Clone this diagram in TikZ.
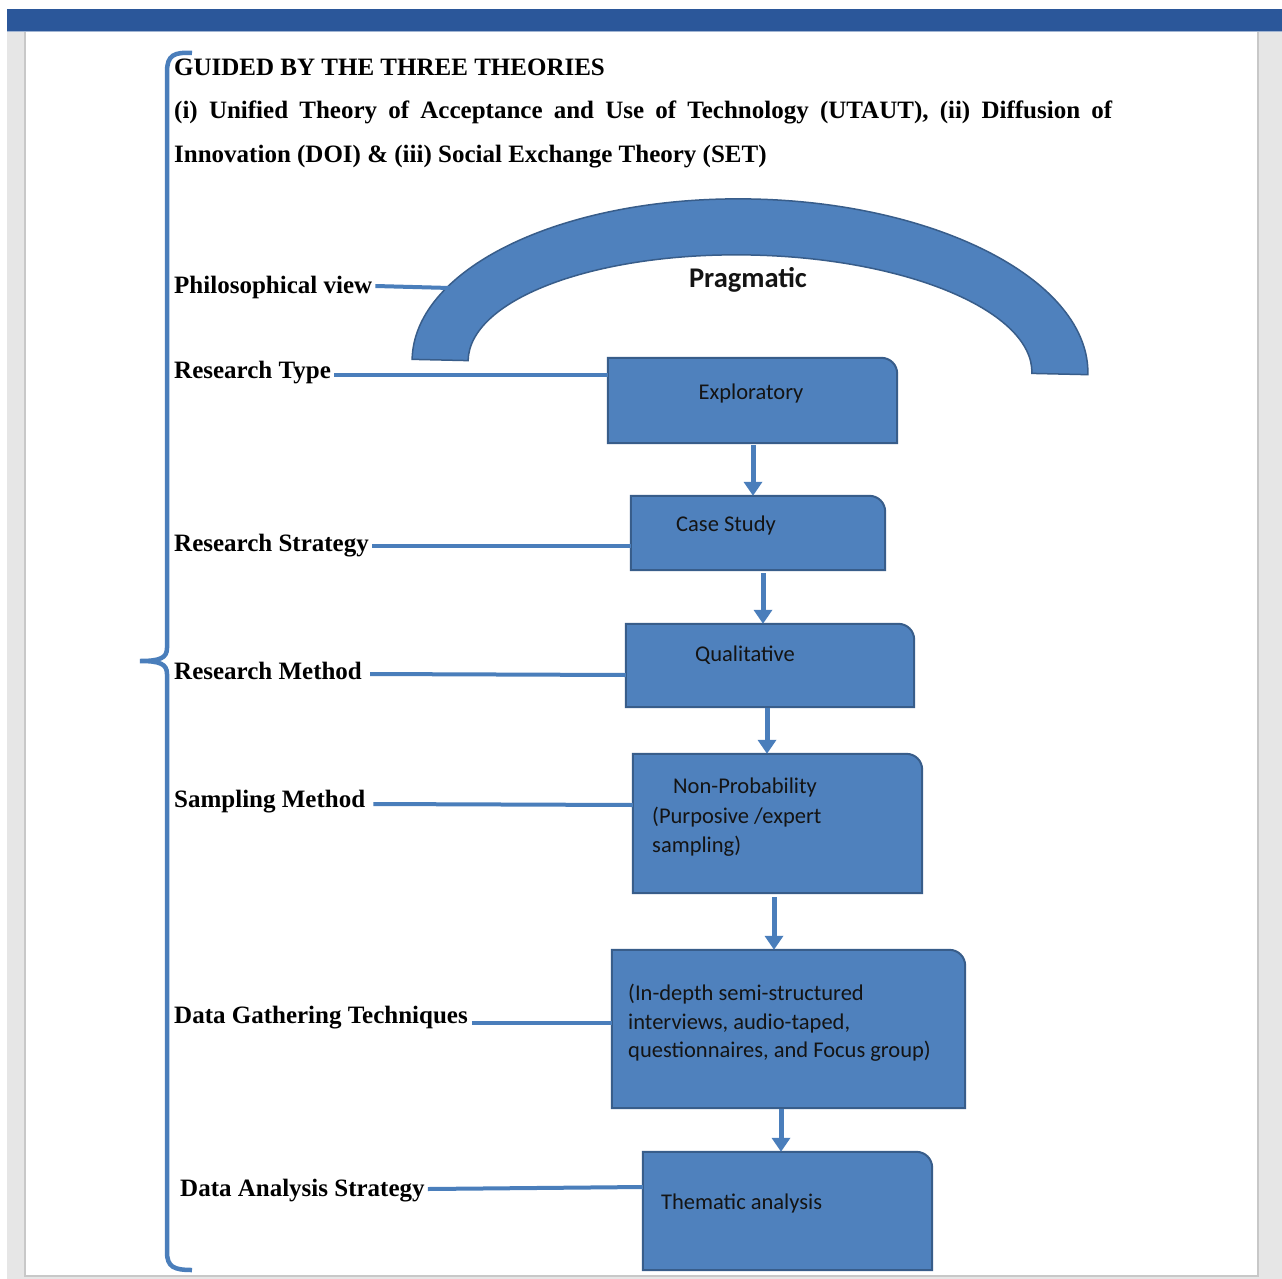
\documentclass[tikz,border=0pt]{standalone}
\usepackage{fontspec}
\setmainfont{Liberation Serif}
\newfontfamily\calib{Carlito}
\usetikzlibrary{arrows.meta}
\definecolor{barblue}{HTML}{2B579A}
\definecolor{boxfill}{HTML}{4F81BD}
\definecolor{boxedge}{HTML}{385D8A}
\definecolor{linkblue}{HTML}{4A7EBB}
\definecolor{pagegrey}{HTML}{E6E6E6}
\definecolor{edgegrey}{HTML}{C8C8C8}
\definecolor{ink}{HTML}{141414}
\tikzset{
 lab/.style={anchor=base west, inner sep=0pt, font=\fontsize{25}{30}\selectfont\bfseries, text=black},
 btxt/.style={anchor=base west, inner sep=0pt, font=\calib\fontsize{22.5}{27}\selectfont, text=ink},
 btxtc/.style={btxt, anchor=base},
 boxn/.style={inner sep=0pt, draw=none},
 boxshape/.style={fill=boxfill, draw=boxedge, line width=2pt},
 conn/.style={draw=linkblue, line width=4pt},
 arr/.style={draw=linkblue, line width=5pt, -{Triangle[width=18pt,length=14pt]}},
}
\newcommand\drawbox[1]{\filldraw[boxshape] (#1.south west) -- (#1.north west) -- ([xshift=-16pt]#1.north east) .. controls ([xshift=-7pt]#1.north east) and ([yshift=-7pt]#1.north east) .. ([yshift=-16pt]#1.north east) -- (#1.south east) -- cycle;}
\begin{document}
\begin{tikzpicture}[x=1pt,y=-1pt]
\useasboundingbox (0,0) rectangle (1282,1279);
\fill[white] (0,0) rectangle (1282,1279);
% window chrome
\fill[pagegrey] (7,32) rectangle (25,1279);
\fill[pagegrey] (1258,32) rectangle (1282,1279);
\fill[pagegrey] (25,1276) rectangle (1258,1279);
\draw[edgegrey, line width=1.5pt] (25,32) -- (25,1276) -- (1258,1276) -- (1258,32);
\fill[barblue] (7,9) rectangle (1282,32);
\draw[barblue!45, line width=1pt] (7,32) -- (1282,32);

% header
\node[lab] (h1) at (174,76) {GUIDED BY THE THREE THEORIES};
\node[lab] (h2) at (174,119) {\makebox[938pt][s]{(i) Unified Theory of Acceptance and Use of Technology (UTAUT), (ii) Diffusion of}};
\node[lab] (h3) at (174,162) {Innovation (DOI) \& (iii) Social Exchange Theory (SET)};

% bracket
\draw[conn, line width=4.5pt] (192,53) .. controls (174,52) and (167,55) .. (167,72) -- (167,648) .. controls (167,658) and (160,661) .. (140,661) .. controls (160,661) and (167,664) .. (167,674) -- (167,1252) .. controls (167,1267) and (174,1270) .. (192,1270);

% pragmatic block arc
\begin{scope}[shift={(750,367)}, rotate=-1.3]
\filldraw[fill=boxfill, draw=boxedge, line width=1.5pt] (-338,0) arc[start angle=180, end angle=0, x radius=338pt, y radius=168pt] -- (282,0) arc[start angle=0, end angle=180, x radius=282pt, y radius=112pt] -- cycle;
\end{scope}
\coordinate (arcL) at (450,288);
\node[btxtc, font=\calib\bfseries\fontsize{28.5}{32}\selectfont] (prag) at (748,287) {Pragmatic};

% boxes
\node[boxn, minimum width=289pt, minimum height=85pt] (bexp) at (752.5,400.5) {};
\node[boxn, minimum width=254pt, minimum height=74pt] (bcase) at (758,533) {};
\node[boxn, minimum width=288pt, minimum height=83pt] (bqual) at (770,665.5) {};
\node[boxn, minimum width=289pt, minimum height=139pt] (bnon) at (777.5,823.5) {};
\node[boxn, minimum width=353pt, minimum height=158pt] (bgat) at (788.5,1029) {};
\node[boxn, minimum width=289pt, minimum height=118pt] (bthem) at (787.5,1211) {};
\drawbox{bexp}\drawbox{bcase}\drawbox{bqual}\drawbox{bnon}\drawbox{bgat}\drawbox{bthem}

% box texts
\node[btxtc] (texp) at (751,399) {Exploratory};
\node[btxtc] (tcase) at (726,531) {Case Study};
\node[btxtc] (tqual) at (745,661) {Qualitative};
\node[btxt] (tnon1) at (673,793) {Non-Probability};
\node[btxt] (tnon2) at (652,823) {(Purposive /expert};
\node[btxt] (tnon3) at (652,852) {sampling)};
\node[btxt] (tgat1) at (628,1000) {(In-depth semi-structured};
\node[btxt] (tgat2) at (628,1029) {interviews, audio-taped,};
\node[btxt] (tgat3) at (628,1057) {questionnaires, and Focus group)};
\node[btxt] (tthem) at (661,1209) {Thematic analysis};

% labels
\node[lab] (lphil) at (174,293) {Philosophical view};
\node[lab] (ltype) at (174,378) {Research Type};
\node[lab] (lstrat) at (174,551) {Research Strategy};
\node[lab] (lmeth) at (174,679) {Research Method};
\node[lab] (lsamp) at (174,807) {Sampling Method};
\node[lab] (lgat) at (174,1023) {Data Gathering Techniques};
\node[lab] (lana) at (180,1196) {Data Analysis Strategy};

% connectors
\draw[conn] ([shift={(3pt,7pt)}]lphil.base east) -- (arcL);
\draw[conn] ([shift={(3pt,3pt)}]ltype.base east) -- ([yshift=3pt]ltype.base east -| bexp.west);
\draw[conn] ([shift={(3pt,5pt)}]lstrat.base east) -- ([yshift=5pt]lstrat.base east -| bcase.west);
\draw[conn] ([shift={(8pt,5pt)}]lmeth.base east) -- ([yshift=4pt]lmeth.base east -| bqual.west);
\draw[conn] ([shift={(8pt,3pt)}]lsamp.base east) -- ([yshift=2pt]lsamp.base east -| bnon.west);
\draw[conn] ([shift={(4pt,0pt)}]lgat.base east) -- (lgat.base east -| bgat.west);
\draw[conn] ([shift={(3pt,7pt)}]lana.base east) -- ([yshift=9pt]lana.base east -| bthem.west);

% arrows
\draw[arr] ([shift={(0.5pt,-2pt)}]bexp.south) -- ([xshift=0.5pt]bexp.south |- bcase.north);
\draw[arr] ([shift={(5pt,-3pt)}]bcase.south) -- ([xshift=5pt]bcase.south |- bqual.north);
\draw[arr] ([shift={(-3pt,-1pt)}]bqual.south) -- ([xshift=-3pt]bqual.south |- bnon.north);
\draw[arr] ([shift={(-3.5pt,-4pt)}]bnon.south) -- ([xshift=-3.5pt]bnon.south |- bgat.north);
\draw[arr] ([shift={(-7.5pt,-1pt)}]bgat.south) -- ([xshift=-7.5pt]bgat.south |- bthem.north);
\end{tikzpicture}
\end{document}
